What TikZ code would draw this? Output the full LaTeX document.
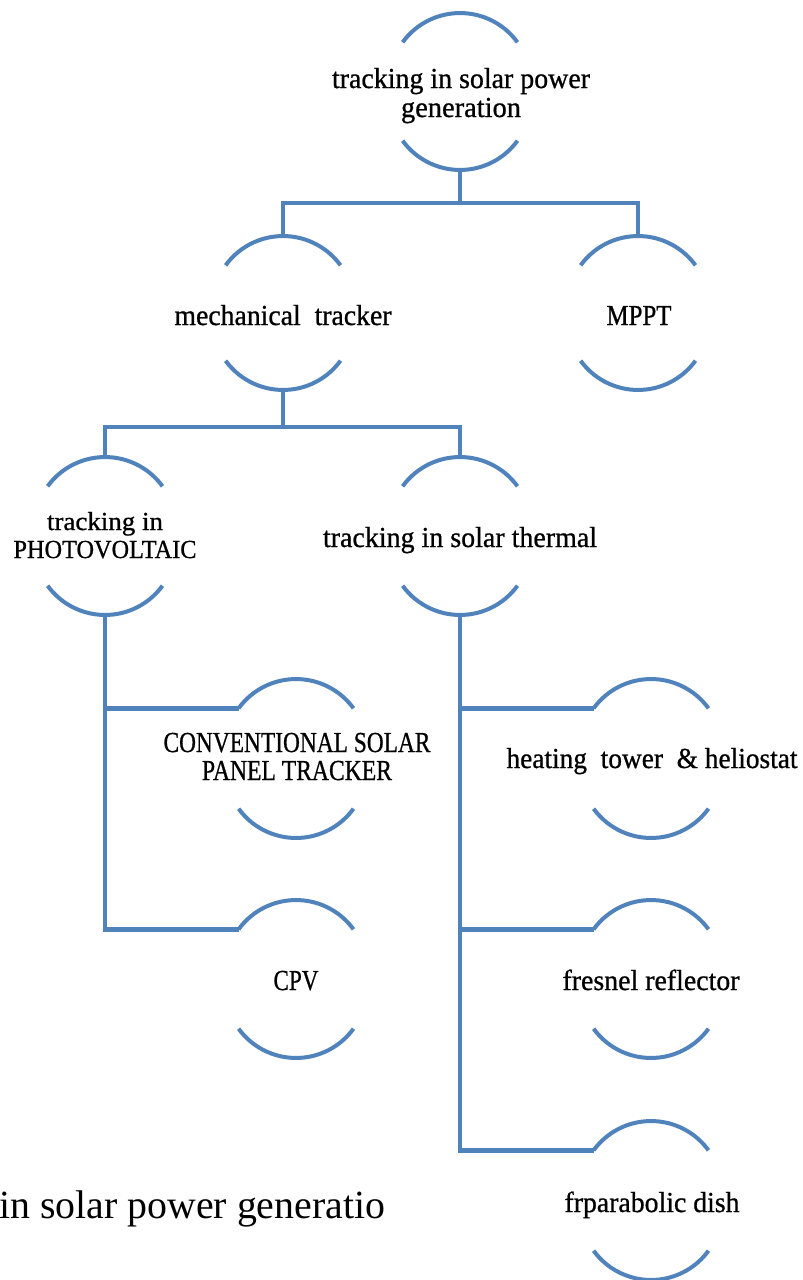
\documentclass[tikz,border=0pt]{standalone}
\usepackage{fontspec}
\usepackage{graphicx}
\setmainfont{Liberation Serif}
\newfontfamily\labfont[FakeBold=0.8]{Liberation Serif}
\definecolor{linkblue}{RGB}{80,130,188}
\newcommand\fw[2]{\resizebox{#1pt}{\height}{#2}}
\newcommand\twoline[3]{\vtop{\baselineskip=#1\lineskiplimit=-100pt\halign{\hfil##\hfil\cr #2\cr #3\cr}}}
\newcommand\bracketarcs[4]{%
  \coordinate (#1-t) at (#2,#3);
  \coordinate (#1-b) at (#2,#4);
  \draw[arcline] (#1-t) ++(-57.4,29.3) coordinate (#1-l) arc[start angle=216,end angle=324,radius=71];
  \draw[arcline] (#1-b) ++(-57.4,-29.3) arc[start angle=144,end angle=36,radius=71];
}
\tikzset{
  arcline/.style={draw=linkblue,line width=4pt},
  link/.style={draw=linkblue,line width=4.5pt},
  lab/.style={inner sep=0pt,anchor=base,font=\labfont\fontsize{29}{30}\selectfont,text=black}
}
\begin{document}
\begin{tikzpicture}[x=1pt,y=-1pt]
\path[use as bounding box] (0,0) rectangle (803,1280);
% bracket arcs
\bracketarcs{top}{460}{13}{170}
\bracketarcs{mech}{283}{236}{390}
\bracketarcs{mppt}{638}{236}{390}
\bracketarcs{pv}{105}{457}{615}
\bracketarcs{th}{460}{457}{615}
\bracketarcs{conv}{296}{679}{838}
\bracketarcs{heat}{651}{679}{838}
\bracketarcs{cpv}{296}{900}{1058}
\bracketarcs{fres}{651}{900}{1058}
\bracketarcs{para}{651}{1121}{1280}
% labels
\node[lab] (ntop) at (461,88) {\twoline{29pt}{\fw{258}{tracking in solar power}}{\fw{120}{generation}}};
\node[lab] (nmech) at (283,325) {\fw{217}{mechanical~ tracker}};
\node[lab] (nmppt) at (639,325) {\fw{65}{MPPT}};
\node[lab,font=\labfont\fontsize{26}{27}\selectfont] (npv) at (105,530) {\twoline{28pt}{\fw{116}{tracking in}}{\fw{183}{PHOTOVOLTAIC}}};
\node[lab] (nth) at (460,547) {\fw{274}{tracking in solar thermal}};
\node[lab] (nconv) at (297,752) {\twoline{28pt}{\fw{267}{CONVENTIONAL SOLAR}}{\fw{190}{PANEL TRACKER}}};
\node[lab] (nheat) at (652,768) {\fw{291}{heating~ tower~ \& heliostat}};
\node[lab] (ncpv) at (296,990) {\fw{45}{CPV}};
\node[lab] (nfres) at (651,990) {\fw{177}{fresnel reflector}};
\node[lab] (npara) at (652,1212) {\fw{175}{frparabolic dish}};
\node[inner sep=0pt,anchor=base west,font=\fontsize{40}{40}\selectfont] (caption) at (-1,1218) {\fw{386}{in solar power generatio}};
% connectors
\draw[link] (top-b) -- ++(0,33) -| (mech-t);
\draw[link] (top-b) -- ++(0,33) -| (mppt-t);
\draw[link] (mech-b) -- ++(0,37) -| (pv-t);
\draw[link] (mech-b) -- ++(0,37) -| (th-t);
\draw[link] (pv-b) |- (cpv-l);
\draw[link] (pv-b |- conv-l) -- (conv-l);
\draw[link] (th-b) |- (para-l);
\draw[link] (th-b |- heat-l) -- (heat-l);
\draw[link] (th-b |- fres-l) -- (fres-l);
\end{tikzpicture}
\end{document}
